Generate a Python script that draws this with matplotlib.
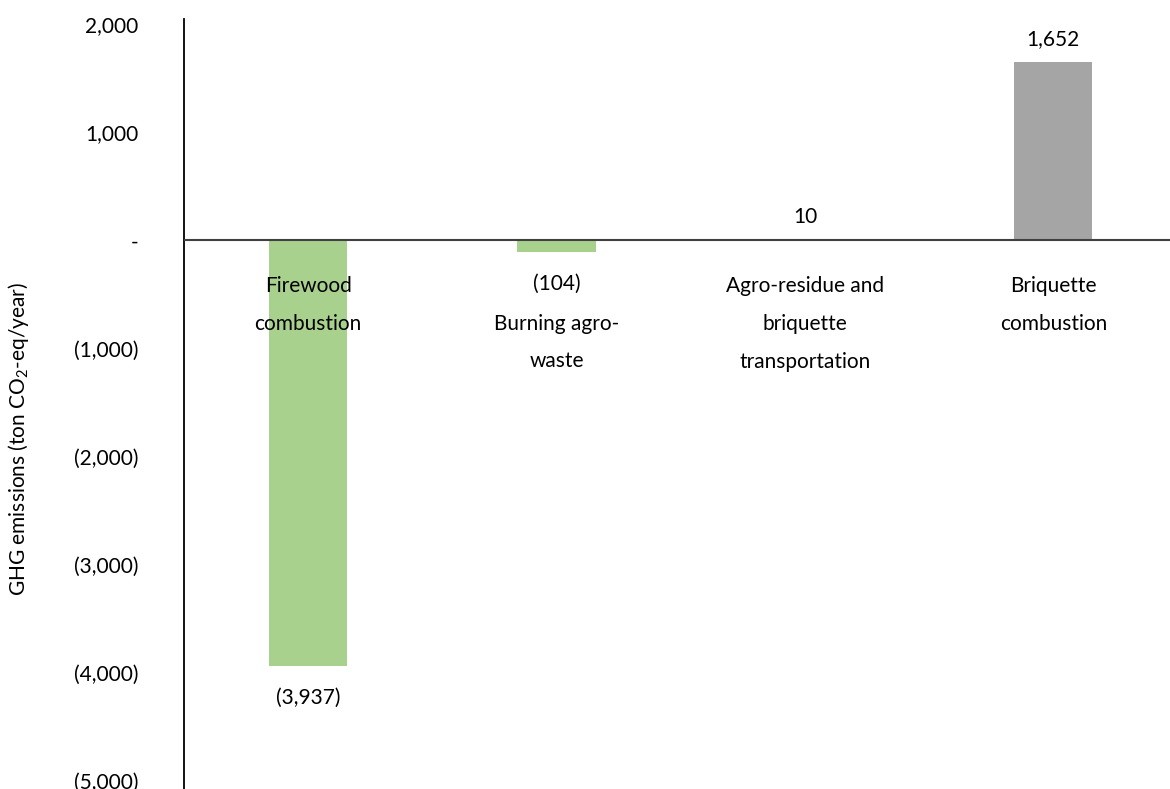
import numpy as np
import matplotlib.pyplot as plt

plt.rcParams['font.family'] = ['Lato', 'DejaVu Sans']
plt.rcParams['mathtext.fontset'] = 'custom'
plt.rcParams['mathtext.rm'] = 'Lato'
plt.rcParams['mathtext.it'] = 'Lato:italic'

# Данные: выбросы ПГ по категориям (т CO2-экв/год)
categories = ['Firewood\ncombustion', 'Burning agro-\nwaste',
              'Agro-residue and\nbriquette\ntransportation', 'Briquette\ncombustion']
values = [-3937, -104, 10, 1652]
colors = ['#A9D18E', '#A9D18E', '#A5A5A5', '#A5A5A5']
value_labels = ['(3,937)', '(104)', '10', '1,652']
y_ticks = [2000, 1000, 0, -1000, -2000, -3000, -4000, -5000]
y_tick_labels = ['2,000', '1,000', '-', '(1,000)', '(2,000)', '(3,000)', '(4,000)', '(5,000)']

W, H = 1170, 789
fig = plt.figure(figsize=(W / 100, H / 100), dpi=100)
ax = fig.add_axes([184 / W, 0, (W - 184) / W, (H - 19) / H])

x = np.arange(len(values))
ax.bar(x, values, width=0.315, color=colors, zorder=2)
ax.axhline(0, color='#404040', linewidth=1.5, zorder=3)

ax.set_xlim(-0.5, 3.47)
ax.set_ylim(-5074, 2046)
ax.set_yticks(y_ticks)
ax.set_yticklabels(y_tick_labels)
ax.set_xticks([])
ax.tick_params(axis='y', length=0, pad=33, labelsize=15)

for side in ['top', 'right', 'bottom']:
    ax.spines[side].set_visible(False)
ax.spines['left'].set_linewidth(1.3)
ax.spines['left'].set_color('black')

# Подписи значений
for xi, v, lab in zip(x, values, value_labels):
    if v >= 0:
        ax.annotate(lab, (xi, v), xytext=(0, 9), textcoords='offset points',
                    ha='center', va='bottom', fontsize=15)
    else:
        ax.annotate(lab, (xi, v), xytext=(0, -16), textcoords='offset points',
                    ha='center', va='top', fontsize=15)

# Подписи категорий под нулевой линией
cat_offsets = [-26, -53, -26, -26]
for xi, cat, off in zip(x, categories, cat_offsets):
    ax.annotate(cat, (xi, 0), xytext=(0, off), textcoords='offset points',
                ha='center', va='top', fontsize=15, linespacing=2.1)

ax.set_ylabel(r'GHG emissions (ton CO$_2$-eq/year)', fontsize=15)
ax.yaxis.set_label_coords(-0.155, 0.455)

fig.savefig('out.png', dpi=100)
